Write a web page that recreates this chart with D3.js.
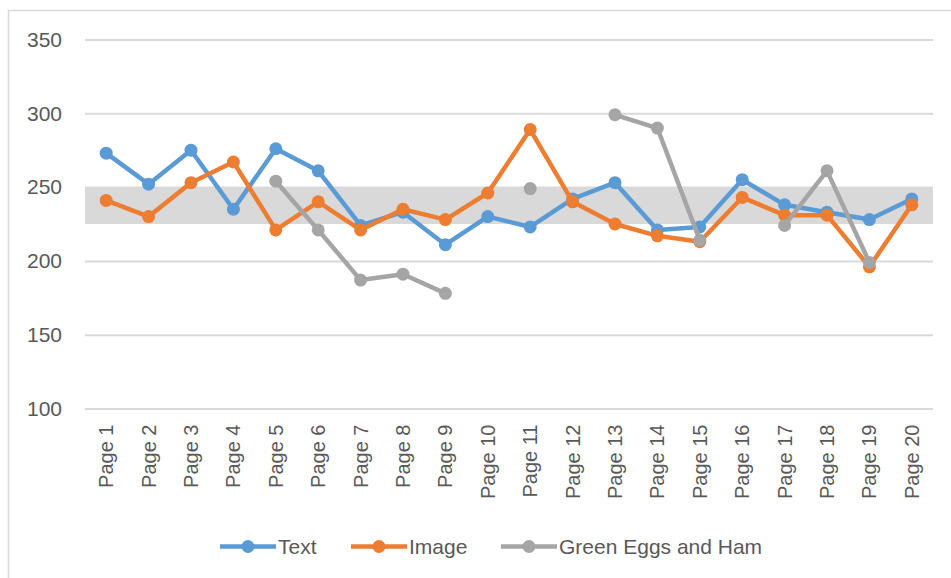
<!DOCTYPE html>
<html>
<head>
<meta charset="utf-8">
<script src="https://cdn.jsdelivr.net/npm/d3@7"></script>
<style>
  body { margin: 0; background: #fff; }
  text { font-family: "Liberation Sans", Arial, sans-serif; fill: #595959; }
</style>
</head>
<body>
<div id="chart"></div>
<script>
const width = 951;
const height = 578;

// Data
const pages = d3.range(1, 21).map((i) => 'Page ' + i);
const textValues = [273, 252, 275, 235, 276, 261, 224, 233, 211, 230, 223, 242, 253, 221, 223, 255, 238, 233, 228, 242];
const imageValues = [241, 230, 253, 267, 221, 240, 221, 235, 228, 246, 289, 240, 225, 217, 213, 243, 231, 231, 196, 238];
const eggsValues = [null, null, null, null, 254, 221, 187, 191, 178, null, 249, null, 299, 290, 214, null, 224, 261, 199, null];
const yTicks = [100, 150, 200, 250, 300, 350];
const bandRange = [225, 250];

const series = [
  { name: 'Text', values: textValues, color: '#5B9BD5' },
  { name: 'Image', values: imageValues, color: '#ED7D31' },
  { name: 'Green Eggs and Ham', values: eggsValues, color: '#A5A5A5' }
];

const margin = { left: 85, right: 18, top: 39.5, bottom: 169.5 };

const svg = d3
  .select('#chart')
  .append('svg')
  .attr('width', width)
  .attr('height', height);

// chart border (only top and left edges show in the picture)
svg.append('rect')
  .attr('x', 8.5)
  .attr('y', 10.5)
  .attr('width', width + 10)
  .attr('height', height + 10)
  .attr('fill', 'none')
  .attr('stroke', '#D9D9D9')
  .attr('stroke-width', 1.5);

const xScale = d3.scaleBand()
  .domain(pages)
  .range([margin.left, width - margin.right]);

const yScale = d3.scaleLinear()
  .domain([100, 350])
  .range([height - margin.bottom, margin.top]);

// grey band
svg.append('rect')
  .attr('x', margin.left)
  .attr('y', yScale(bandRange[1]))
  .attr('width', width - margin.right - margin.left)
  .attr('height', yScale(bandRange[0]) - yScale(bandRange[1]))
  .attr('fill', '#D9D9D9');

// y axis with gridlines
const yAxis = svg.append('g')
  .attr('transform', `translate(${margin.left},0)`)
  .call(d3.axisLeft(yScale)
    .tickValues(yTicks)
    .tickSize(-(width - margin.right - margin.left))
    .tickPadding(23));
yAxis.select('.domain').remove();
yAxis.selectAll('line').attr('stroke', '#D9D9D9').attr('stroke-width', 2);
yAxis.selectAll('text')
  .style('font-size', '21px')
  .attr('fill', '#595959');

// x axis labels (rotated)
const xAxis = svg.append('g')
  .attr('transform', `translate(0,${height - margin.bottom})`)
  .call(d3.axisBottom(xScale).tickSize(0));
xAxis.select('.domain').remove();
xAxis.selectAll('text')
  .style('font-size', '20px')
  .attr('fill', '#595959')
  .attr('text-anchor', 'end')
  .attr('transform', 'rotate(-90)')
  .attr('dy', '0.35em')
  .attr('x', -16)
  .attr('y', 0);

const line = d3.line()
  .defined((d) => d != null)
  .x((d, i) => xScale(pages[i]) + xScale.bandwidth() / 2)
  .y((d) => yScale(d));

series.forEach(function (s) {
  const g = svg.append('g');
  g.append('path')
    .datum(s.values)
    .attr('fill', 'none')
    .attr('stroke', s.color)
    .attr('stroke-width', 4.5)
    .attr('stroke-linejoin', 'round')
    .attr('d', line);
  g.selectAll('circle')
    .data(s.values.map((v, i) => ({ v, i })).filter((d) => d.v != null))
    .enter()
    .append('circle')
    .attr('cx', (d) => xScale(pages[d.i]) + xScale.bandwidth() / 2)
    .attr('cy', (d) => yScale(d.v))
    .attr('r', 6.5)
    .attr('fill', s.color);
});

// legend
const legendX = [220, 351, 501];
const legendY = 546.5;
const legend = svg.selectAll('.legend')
  .data(series)
  .enter()
  .append('g')
  .attr('class', 'legend')
  .attr('transform', (d, i) => `translate(${legendX[i]},${legendY})`);
legend.append('line')
  .attr('x1', 0)
  .attr('x2', 56)
  .attr('stroke', (d) => d.color)
  .attr('stroke-width', 4.5);
legend.append('circle')
  .attr('cx', 28)
  .attr('r', 6.5)
  .attr('fill', (d) => d.color);
legend.append('text')
  .attr('x', 58)
  .attr('dy', '0.35em')
  .style('font-size', '21px')
  .text((d) => d.name);
</script>
</body>
</html>
